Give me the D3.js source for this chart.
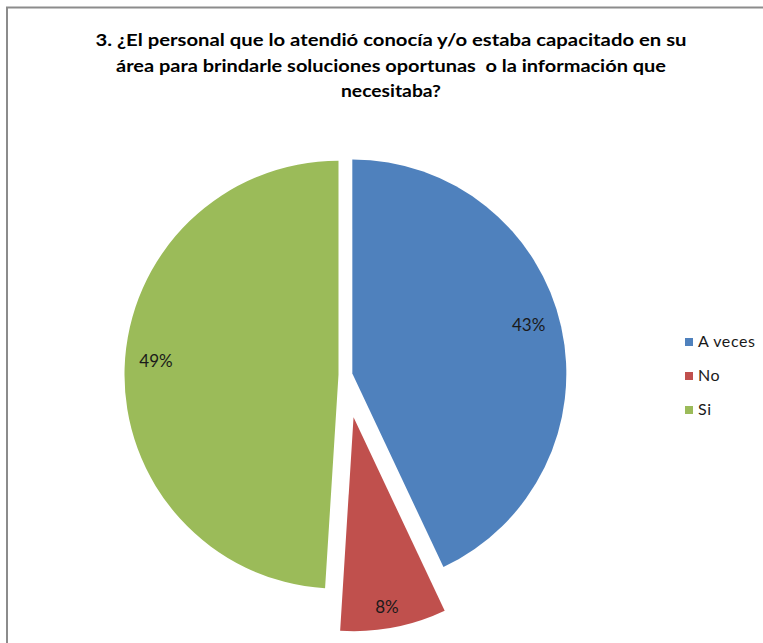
<!DOCTYPE html>
<html>
<head>
<meta charset="utf-8">
<script src="https://cdn.jsdelivr.net/npm/d3@7"></script>
<style>
  html, body { margin: 0; padding: 0; background: #fff; }
  svg { display: block; }
  .title tspan { white-space: pre; }
</style>
</head>
<body>
<svg id="chart" width="763" height="643"></svg>
<script>
// Survey answers for question 3
const titleLines = [
  "3. ¿El personal que lo atendió conocía y/o estaba capacitado en su",
  "área para brindarle soluciones oportunas  o la información que",
  "necesitaba?"
];
const categories = ["A veces", "No", "Si"];
const percents = [43, 8, 49];
const colors = ["#4F81BD", "#C0504D", "#9BBB59"];

// Layout and style settings
const W = 763, H = 643;
const center = { x: 345.5, y: 375 };
const radius = 214;
const explode = [7, 43, 7];               // radial offset of each slice
const labelFrac = [0.855, 0.9, 0.855];    // label distance as a fraction of the radius
const labelTurn = [-2.9, 0.8, 2.4];       // best-fit angular nudge of each label, degrees
const titleWidths = [591, 550, 100];
const fontFamily = "Lato, 'Open Sans', 'Liberation Sans', sans-serif";

const svg = d3.select("#chart");

// Chart frame (only the top and left edges fall inside the view)
svg.append("rect")
  .attr("x", 7).attr("y", 7.5)
  .attr("width", 820).attr("height", 700)
  .attr("fill", "#fff")
  .attr("stroke", "#8c8c8c")
  .attr("stroke-width", 2);

// Title
const title = svg.append("text")
  .attr("class", "title")
  .attr("text-anchor", "middle")
  .attr("font-family", fontFamily)
  .attr("font-weight", "bold")
  .attr("font-size", 17.5)
  .attr("fill", "#000");
titleLines.forEach((line, i) => {
  title.append("tspan")
    .attr("x", 391)
    .attr("y", 46 + i * 25.5)
    .attr("textLength", titleWidths[i])
    .attr("lengthAdjust", "spacingAndGlyphs")
    .text(line);
});

// Pie
const pie = d3.pie().sort(null).startAngle(0).endAngle(2 * Math.PI).value(d => d);
const arcs = pie(percents);
const arc = d3.arc().innerRadius(0).outerRadius(radius);

const slices = svg.append("g")
  .attr("transform", `translate(${center.x},${center.y})`);

const sliceG = slices.selectAll("g.slice")
  .data(arcs)
  .join("g")
  .attr("class", "slice")
  .attr("transform", (d, i) => {
    const mid = (d.startAngle + d.endAngle) / 2;
    return `translate(${Math.sin(mid) * explode[i]},${-Math.cos(mid) * explode[i]})`;
  });

sliceG.append("path")
  .attr("d", arc)
  .attr("fill", (d, i) => colors[i]);

// Percentage labels
sliceG.append("text")
  .attr("transform", (d, i) => {
    const a = (d.startAngle + d.endAngle) / 2 + labelTurn[i] * Math.PI / 180;
    const r = radius * labelFrac[i];
    return `translate(${Math.sin(a) * r},${-Math.cos(a) * r})`;
  })
  .attr("text-anchor", "middle")
  .attr("dy", "0.35em")
  .attr("font-family", fontFamily)
  .attr("font-size", 17)
  .attr("fill", "#1a1a1a")
  .text(d => d.data + "%");

// Legend
const legend = svg.append("g");
const legendItems = legend.selectAll("g")
  .data(categories)
  .join("g")
  .attr("transform", (d, i) => `translate(685,${338 + i * 34})`);

legendItems.append("rect")
  .attr("width", 8).attr("height", 8)
  .attr("fill", (d, i) => colors[i]);

legendItems.append("text")
  .attr("x", 13)
  .attr("y", 8.7)
  .attr("font-family", fontFamily)
  .attr("font-size", 16)
  .attr("letter-spacing", 0.6)
  .attr("fill", "#1a1a1a")
  .text(d => d);
</script>
</body>
</html>
